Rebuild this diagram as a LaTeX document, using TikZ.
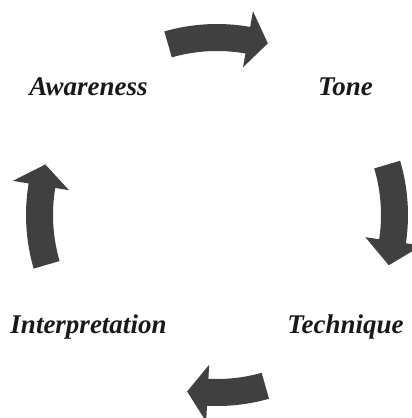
\documentclass[tikz,border=0pt]{standalone}
\usepackage{fontspec}
\setmainfont{Liberation Serif}
\begin{document}
\begin{tikzpicture}[x=1pt,y=1pt,
  arrowfill/.style={fill=black!75},
  lbl/.style={anchor=base,font=\fontsize{27}{30}\selectfont\bfseries\itshape,text=black!90}]
\useasboundingbox (0,0) rectangle (412,-418);
\clip (0,0) rectangle (412,-418);
\newcommand{\cycarrow}[3]{%
  \fill[arrowfill] (#1:191) arc[start angle=#1, end angle=#2, radius=191]
    -- (#2:207) -- (#3:179) -- (#2:150) -- (#2:164)
    arc[start angle=#2, end angle=#1, radius=164] -- cycle;}
\node[lbl] (aw) at (88.5,-95) {Awareness};
\node[lbl] (to) at (345.5,-95) {Tone};
\node[lbl] (te) at (345.5,-333) {Technique};
\node[lbl] (in) at (88.5,-333) {Interpretation};
\begin{scope}[shift={(217,-215)}]
  \cycarrow{106}{80}{73.5}
  \cycarrow{16.5}{-8.5}{-16.3}
  \cycarrow{-74.2}{-93}{-99.6}
  \cycarrow{196.3}{170.5}{163.6}
\end{scope}
\end{tikzpicture}
\end{document}
